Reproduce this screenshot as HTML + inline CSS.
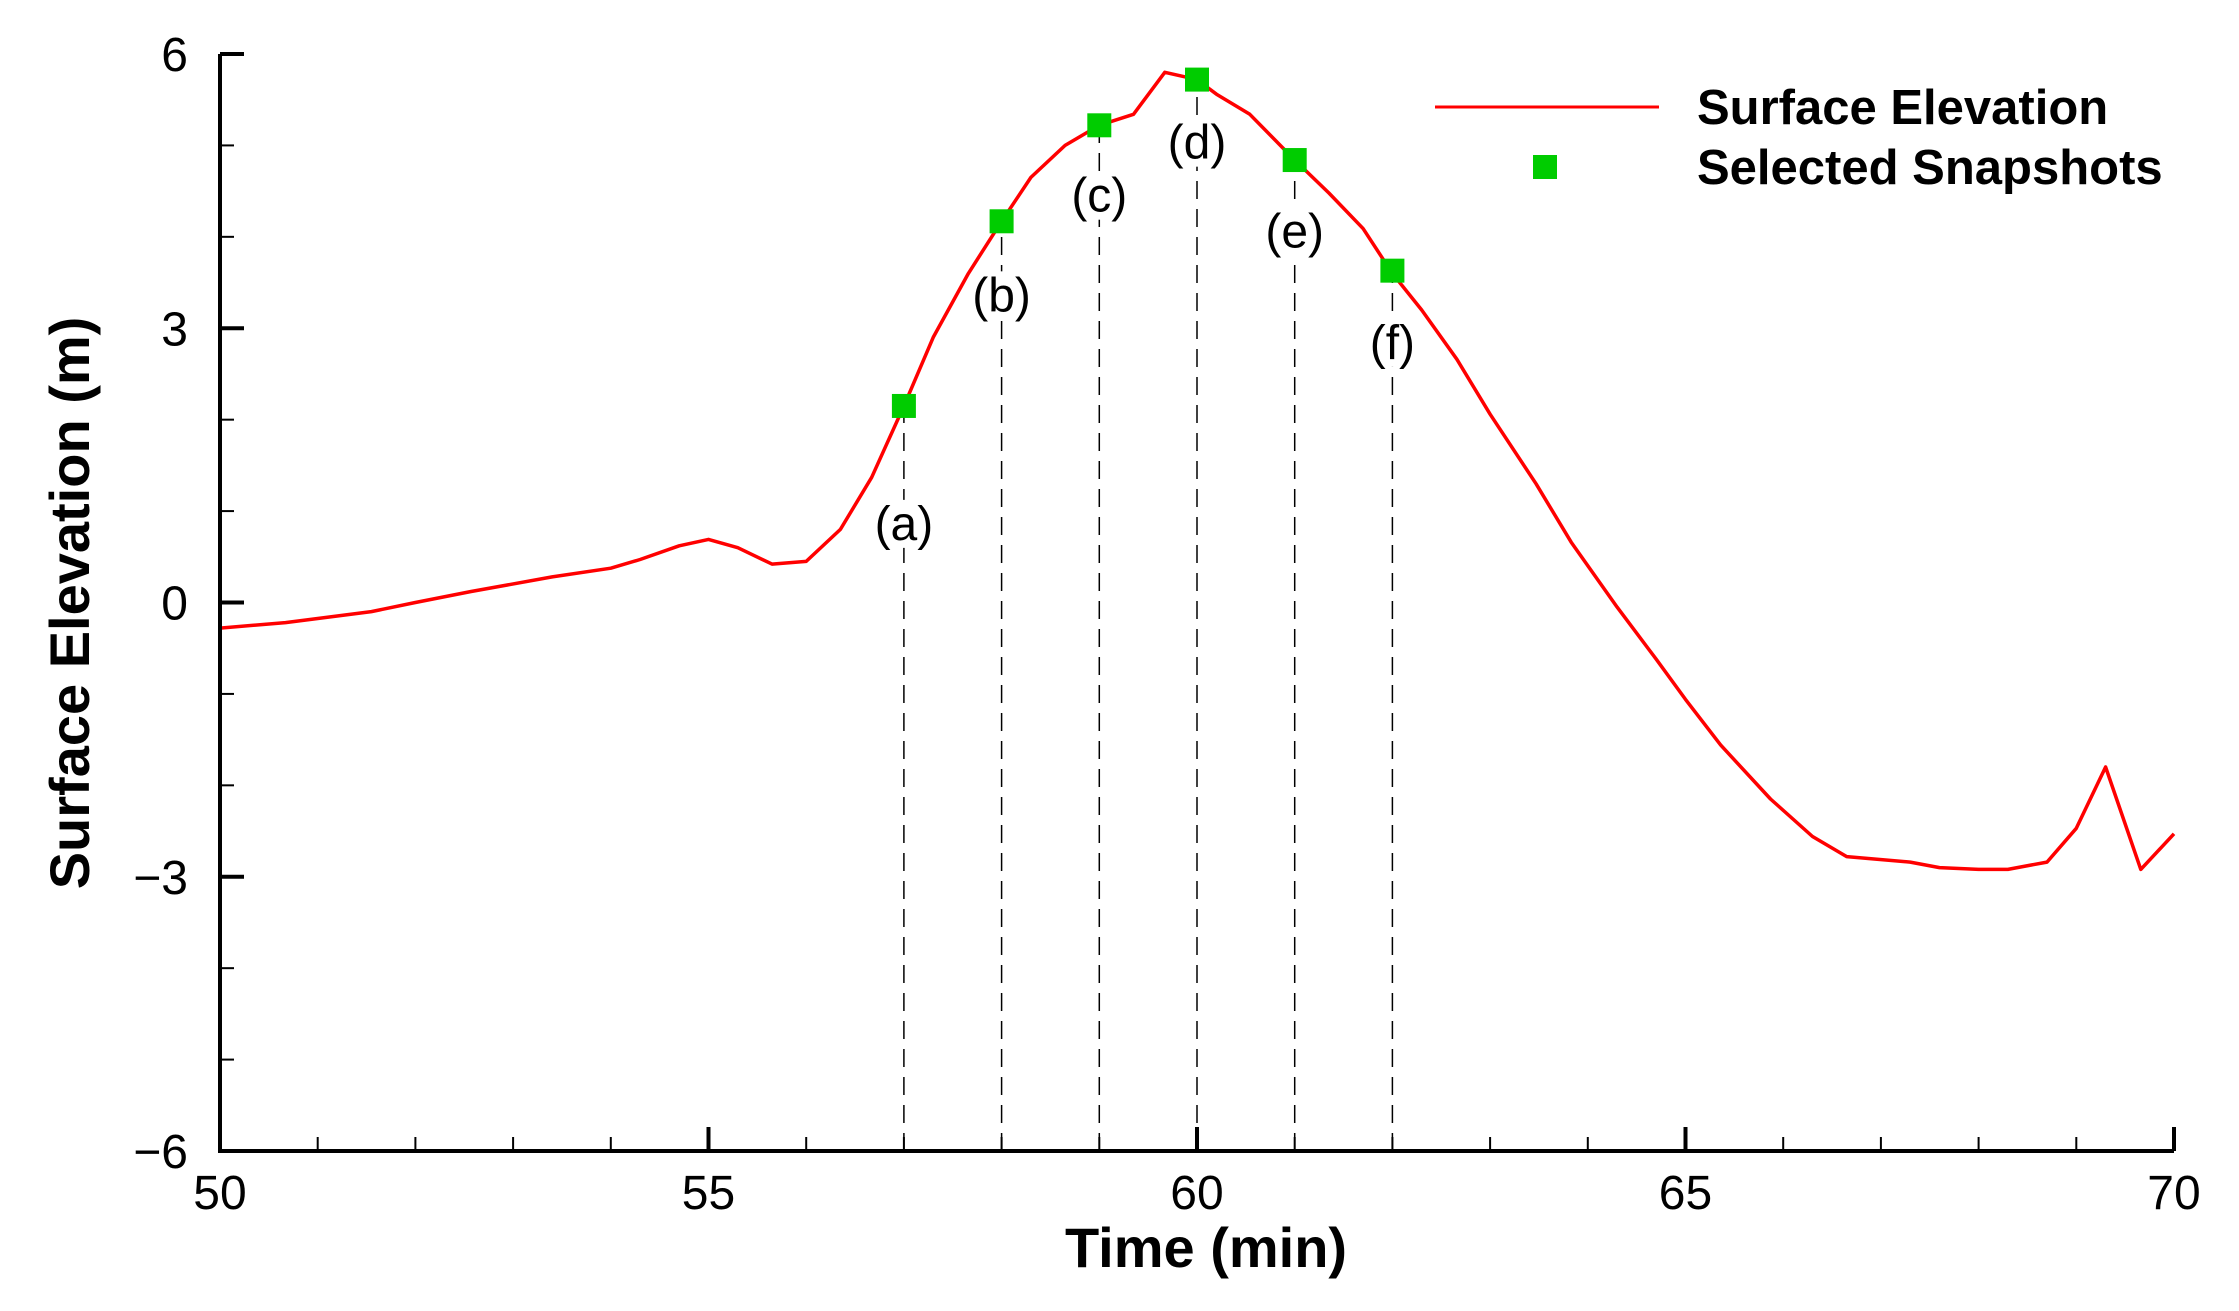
<!DOCTYPE html>
<html><head><meta charset="utf-8"><style>
html,body{margin:0;padding:0;background:#fff}
svg{display:block;font-family:"Liberation Sans",Arial,sans-serif}
</style></head><body>
<svg id="chart" width="2239" height="1311" viewBox="0 0 2239 1311" xmlns="http://www.w3.org/2000/svg">
<g id="grid"></g>
<g id="series"></g>
<g id="axes"></g>
<text x="1206" y="1267" text-anchor="middle" font-size="56" font-weight="bold">Time (min)</text>
<text transform="translate(89,603) rotate(-90)" text-anchor="middle" font-size="56" font-weight="bold">Surface Elevation (m)</text>
<g>
<line x1="1435" y1="107" x2="1659" y2="107" stroke="#ff0000" stroke-width="3"/>
<text x="1697" y="124" font-size="49" font-weight="bold">Surface Elevation</text>
<rect x="1533" y="155" width="24" height="24" fill="#00cc00"/>
<text x="1697" y="184" font-size="49" font-weight="bold">Selected Snapshots</text>
</g>
</svg>
<script>
const times = [50,50.67,51.55,52,52.57,53.4,54.0,54.3,54.7,55,55.3,55.65,56.0,56.35,56.67,57,57.3,57.66,58,58.3,58.65,59,59.35,59.67,60,60.2,60.54,61,61.35,61.7,62,62.3,62.66,63.0,63.47,63.83,64.3,64.7,65.0,65.36,65.87,66.3,66.65,67.3,67.6,68,68.3,68.7,69,69.3,69.66,70];
const elevation = [-0.28,-0.22,-0.1,0.0,0.12,0.28,0.375,0.47,0.62,0.69,0.6,0.42,0.45,0.8,1.37,2.15,2.9,3.6,4.17,4.65,5.0,5.22,5.34,5.8,5.72,5.56,5.34,4.84,4.48,4.09,3.6,3.2,2.66,2.06,1.3,0.66,-0.05,-0.62,-1.06,-1.56,-2.15,-2.56,-2.78,-2.84,-2.9,-2.92,-2.92,-2.84,-2.47,-1.8,-2.92,-2.53];
const snapTimes = [57,58,59,60,61,62];
const snapValues = [2.15,4.17,5.22,5.72,4.84,3.63];
const snapLabels = ["(a)","(b)","(c)","(d)","(e)","(f)"];
const snapLabelY = [0.86,3.36,4.45,5.03,4.06,2.84];
const xTicks = [50,55,60,65,70];
const yTicks = [-6,-3,0,3,6];
const yTickLabels = ["\u22126","\u22123","0","3","6"];

const X0=220,X1=2174,Y0=1151,Y1=54;
const xs=t=>X0+(t-50)/20*(X1-X0);
const ys=v=>Y0-(v+6)/12*(Y0-Y1);
const NS="http://www.w3.org/2000/svg";
function mk(tag,attrs,parent){const e=document.createElementNS(NS,tag);for(const k in attrs)e.setAttribute(k,attrs[k]);parent.appendChild(e);return e;}
const grid=document.getElementById('grid'),series=document.getElementById('series'),axes=document.getElementById('axes');

snapTimes.forEach((t,i)=>{
  const l=mk('line',{x1:xs(t),x2:xs(t),y1:Y0,y2:ys(snapValues[i]),stroke:'#000','stroke-width':1.5,'stroke-dasharray':'18,10'},grid);
  
  
});

let d='';
times.forEach((t,i)=>{d+=(i?'L':'M')+xs(t).toFixed(1)+','+ys(elevation[i]).toFixed(1);});
const path=mk('path',{d:d,fill:'none',stroke:'#ff0000','stroke-width':3.5,'stroke-linejoin':'round'},series);



snapTimes.forEach((t,i)=>{
  const cy=ys(snapLabelY[i]);
  const bg=mk('rect',{x:xs(t)-26,y:cy-24,width:52,height:48,fill:'#fff'},series);
  
  
  const tx=mk('text',{x:xs(t),y:cy+16,'text-anchor':'middle','font-size':48},series);
  tx.textContent=snapLabels[i];
  
  
  const r=mk('rect',{x:xs(t)-12,y:ys(snapValues[i])-12,width:24,height:24,fill:'#00cc00'},series);
  
  
});

const ax=mk('path',{d:`M${X0},${Y1}L${X0},${Y0}L${X1},${Y0}`,fill:'none',stroke:'#000','stroke-width':4},axes);


for(let t=50;t<=70;t++){
  const major=(t%5===0);
  const tk=mk('line',{x1:xs(t),x2:xs(t),y1:Y0,y2:Y0-(major?24:14),stroke:'#000','stroke-width':major?4:2},axes);
  
  
}
for(let v=-6;v<=6;v++){
  const major=(v%3===0);
  const tk=mk('line',{x1:X0,x2:X0+(major?24:14),y1:ys(v),y2:ys(v),stroke:'#000','stroke-width':major?4:2},axes);
  
  
}
xTicks.forEach(t=>{
  const e=mk('text',{x:xs(t),y:1209,'text-anchor':'middle','font-size':48},axes);
  e.textContent=t;
  
  
});
yTicks.forEach((v,i)=>{
  const e=mk('text',{x:188,y:ys(v)+17,'text-anchor':'end','font-size':48},axes);
  e.textContent=yTickLabels[i];
  
  
});
</script>
</body></html>
